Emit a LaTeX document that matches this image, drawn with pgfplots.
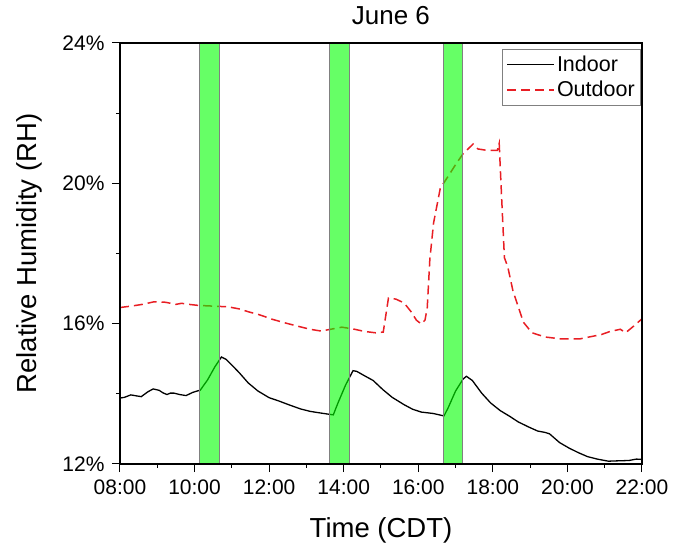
\documentclass[border=0pt]{standalone}
\usepackage{pgfplots}
\pgfplotsset{compat=1.18}
\usepackage{fontspec}
\setmainfont{Liberation Sans}
\definecolor{bandgreen}{RGB}{0,255,0}
\definecolor{outred}{RGB}{232,30,36}
\begin{document}
\begin{tikzpicture}[x=1pt,y=1pt]
\path[use as bounding box] (-120,-80) rectangle (553,464);
\begin{axis}[
  at={(0,0)}, anchor=south west,
  scale only axis, width=522pt, height=421pt,
  xmin=8, xmax=22, ymin=12, ymax=24,
  xtick={8,10,...,22},
  xticklabels={08:00,10:00,12:00,14:00,16:00,18:00,20:00,22:00},
  minor xtick={9,11,...,21},
  ytick={12,16,20,24}, yticklabels={12\%,16\%,20\%,24\%},
  minor ytick={14,18,22},
  tick align=outside, tick pos=left,
  major tick length=8pt, minor tick length=4pt,
  tick style={line width=1pt, black},
  axis line style={line width=1.2pt},
  axis on top,
  ticklabel style={font=\fontsize{21}{24}\selectfont},
  xticklabel style={yshift=-4pt},
  yticklabel style={xshift=-4pt},
  /pgf/number format/assume math mode=true,
  xlabel={Time (CDT)}, ylabel={Relative Humidity (RH)},
  xlabel style={at={(axis description cs:0.5,-0.158)}, anchor=center, font=\fontsize{27.5}{30}\selectfont},
  ylabel style={at={(axis description cs:-0.1743,0.5)}, anchor=center, font=\fontsize{27.5}{30}\selectfont},
  title={June 6},
  title style={at={(axis description cs:0.519,1)}, anchor=base, yshift=12pt, font=\fontsize{26}{30}\selectfont},
  legend style={at={(1,1)}, anchor=north east, xshift=-1pt, yshift=-6pt,
    draw=gray, line width=0.6pt, font=\fontsize{21.5}{24}\selectfont,
    inner xsep=4pt, inner ysep=5pt, row sep=4pt},
  legend cell align=left,
  legend image code/.code={\draw[#1] (0pt,0pt) -- (47pt,0pt);},
]
\addplot[black, line width=1.3pt] coordinates {
(8.00,13.88) (8.12,13.90) (8.29,13.97) (8.45,13.94) (8.57,13.92) (8.75,14.06)
(8.89,14.14) (9.05,14.10) (9.15,14.03) (9.26,13.98) (9.35,14.02) (9.45,14.02)
(9.60,13.98) (9.77,13.95) (9.95,14.04) (10.10,14.09) (10.15,14.10) (10.35,14.40)
(10.55,14.78) (10.72,15.05) (10.85,14.98) (11.00,14.82) (11.20,14.60) (11.44,14.31)
(11.70,14.08) (12.00,13.89) (12.25,13.80) (12.55,13.68) (12.84,13.57) (13.10,13.50)
(13.40,13.45) (13.72,13.40) (13.85,13.75) (14.05,14.25) (14.25,14.66) (14.35,14.64)
(14.55,14.52) (14.79,14.38) (15.05,14.12) (15.30,13.90) (15.62,13.69) (15.85,13.56)
(16.08,13.48) (16.40,13.44) (16.69,13.37) (16.80,13.60) (17.00,14.08) (17.20,14.42)
(17.29,14.50) (17.45,14.38) (17.70,14.02) (17.94,13.74) (18.20,13.52) (18.45,13.36)
(18.68,13.20) (18.95,13.06) (19.20,12.94) (19.40,12.90) (19.52,12.86) (19.65,12.74)
(19.79,12.61) (20.05,12.45) (20.30,12.32) (20.54,12.21) (20.80,12.14) (21.10,12.08)
(21.35,12.09) (21.65,12.10) (21.85,12.14) (22.00,12.13)
};
\addlegendentry{Indoor}
\addplot[outred, line width=1.5pt, dash pattern=on 9pt off 5pt] coordinates {
(8.00,16.46) (8.30,16.50) (8.60,16.55) (8.90,16.62) (9.22,16.61) (9.50,16.55)
(9.65,16.58) (9.85,16.55) (10.10,16.52) (10.50,16.50) (10.90,16.48) (11.20,16.42)
(11.44,16.34) (11.75,16.25) (12.10,16.12) (12.47,16.01) (12.80,15.92) (13.10,15.84)
(13.39,15.79) (13.65,15.84) (13.95,15.90) (14.25,15.85) (14.55,15.78) (14.85,15.74)
(15.06,15.76) (15.20,16.73) (15.40,16.70) (15.62,16.59) (15.80,16.35) (15.95,16.10)
(16.08,15.99) (16.18,16.10) (16.24,16.45) (16.31,17.83) (16.41,18.87) (16.59,19.86)
(16.80,20.20) (17.01,20.55) (17.20,20.84) (17.47,21.12) (17.60,20.98) (17.84,20.94)
(18.12,20.94) (18.17,21.14) (18.22,19.95) (18.31,17.88) (18.40,17.62) (18.54,16.93)
(18.82,16.04) (19.05,15.74) (19.40,15.62) (19.79,15.57) (20.35,15.57) (20.91,15.69)
(21.15,15.78) (21.42,15.84) (21.56,15.74) (21.80,15.95) (22.00,16.14)
};
\addlegendentry{Outdoor}
\addplot[draw=black!50, line width=0.5pt, fill=bandgreen, fill opacity=0.6, forget plot]
  coordinates {(10.13,12) (10.65,12) (10.65,24) (10.13,24)} -- cycle;
\addplot[draw=black!50, line width=0.5pt, fill=bandgreen, fill opacity=0.6, forget plot]
  coordinates {(13.62,12) (14.14,12) (14.14,24) (13.62,24)} -- cycle;
\addplot[draw=black!50, line width=0.5pt, fill=bandgreen, fill opacity=0.6, forget plot]
  coordinates {(16.66,12) (17.17,12) (17.17,24) (16.66,24)} -- cycle;
\end{axis}
\end{tikzpicture}
\end{document}
